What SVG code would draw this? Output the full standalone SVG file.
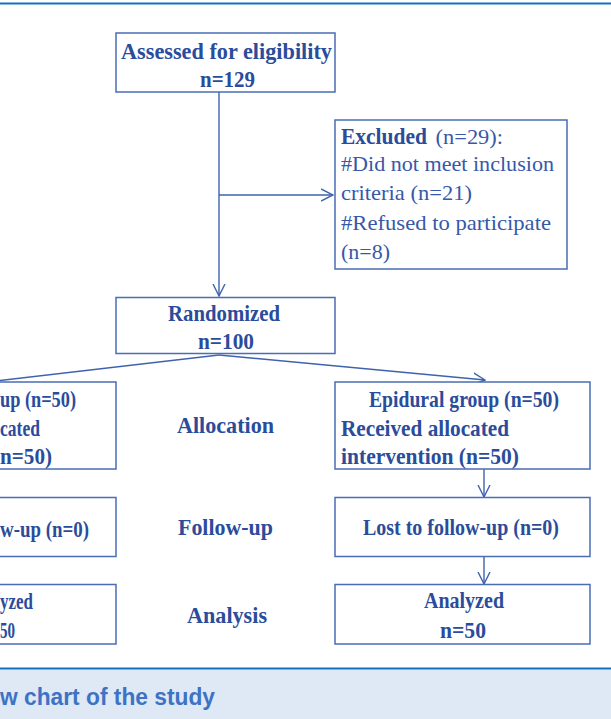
<svg xmlns="http://www.w3.org/2000/svg" width="611" height="719" viewBox="0 0 611 719">
  <style>
    .box { fill: #ffffff; stroke: #4a6db4; stroke-width: 1.5; }
    .b { font-family: "Liberation Serif", "DejaVu Serif", serif; font-weight: bold; font-size: 24px; fill: #2a4c9b; }
    .r { font-family: "Liberation Serif", "DejaVu Serif", serif; font-weight: normal; font-size: 22px; fill: #3758a8; }
    .conn { fill: none; stroke: #3e63ae; stroke-width: 1.4; }
    .cap { font-family: "Liberation Sans", Arial, sans-serif; font-weight: bold; font-size: 23px; fill: #3d72c4; }
  </style>
  <defs>
    <marker id="arr" viewBox="0 0 13 14" refX="12" refY="7" markerWidth="13" markerHeight="14" markerUnits="userSpaceOnUse" orient="auto">
      <path d="M0,1 L12,7 L0,13" fill="none" stroke="#3e63ae" stroke-width="1.4"/>
    </marker>
  </defs>
  <rect x="0" y="0" width="611" height="719" fill="#ffffff"/>
  <line x1="0" y1="3.5" x2="611" y2="3.5" stroke="#1470bf" stroke-width="2"/>

  <g id="connectors">
    <path class="conn" d="M219,92 V296" marker-end="url(#arr)"/>
    <path class="conn" d="M219,195 H333" marker-end="url(#arr)"/>
    <path class="conn" d="M219,355 L-30,384"/>
    <path class="conn" d="M219,355 L485,380" marker-end="url(#arr)"/>
    <path class="conn" d="M484,469 V497" marker-end="url(#arr)"/>
    <path class="conn" d="M484,557 V584" marker-end="url(#arr)"/>
  </g>

  <g id="assessed">
    <rect class="box" x="116" y="33" width="219" height="59"/>
    <text class="b" x="121" y="58.5" textLength="211" lengthAdjust="spacingAndGlyphs">Assessed for eligibility</text>
    <text class="b" x="200" y="86.5" textLength="55" lengthAdjust="spacingAndGlyphs">n=129</text>
  </g>

  <g id="excluded">
    <rect class="box" x="335" y="120" width="232" height="149"/>
    <text class="r" y="143.5"><tspan class="b" x="341" textLength="86" lengthAdjust="spacingAndGlyphs">Excluded</tspan><tspan x="430" textLength="73" lengthAdjust="spacingAndGlyphs"> (n=29):</tspan></text>
    <text class="r" x="341" y="171" textLength="213" lengthAdjust="spacingAndGlyphs">#Did not meet inclusion</text>
    <text class="r" x="341" y="200" textLength="131" lengthAdjust="spacingAndGlyphs">criteria (n=21)</text>
    <text class="r" x="341" y="230" textLength="210" lengthAdjust="spacingAndGlyphs">#Refused to participate</text>
    <text class="r" x="341" y="258.5" textLength="49" lengthAdjust="spacingAndGlyphs">(n=8)</text>
  </g>

  <g id="randomized">
    <rect class="box" x="116" y="297.5" width="219" height="56"/>
    <text class="b" x="168" y="321" textLength="112" lengthAdjust="spacingAndGlyphs">Randomized</text>
    <text class="b" x="198" y="348.5" textLength="56" lengthAdjust="spacingAndGlyphs">n=100</text>
  </g>

  <g id="left-allocation">
    <rect class="box" x="-10" y="382" width="126" height="87"/>
    <text class="b" x="0" y="406.5" textLength="76" lengthAdjust="spacingAndGlyphs">up (n=50)</text>
    <text class="b" x="0" y="435.5" textLength="40" lengthAdjust="spacingAndGlyphs">cated</text>
    <text class="b" x="0" y="463.5" textLength="52" lengthAdjust="spacingAndGlyphs">n=50)</text>
  </g>

  <g id="label-allocation">
    <text class="b" x="177" y="433" textLength="97" lengthAdjust="spacingAndGlyphs">Allocation</text>
  </g>

  <g id="epidural">
    <rect class="box" x="335" y="382" width="255" height="87"/>
    <text class="b" x="369" y="407" textLength="190" lengthAdjust="spacingAndGlyphs">Epidural group (n=50)</text>
    <text class="b" x="341" y="436" textLength="168" lengthAdjust="spacingAndGlyphs">Received allocated</text>
    <text class="b" x="341" y="464" textLength="178" lengthAdjust="spacingAndGlyphs">intervention (n=50)</text>
  </g>

  <g id="left-followup">
    <rect class="box" x="-10" y="497.5" width="126" height="59"/>
    <text class="b" x="0" y="536.5" textLength="89" lengthAdjust="spacingAndGlyphs">w-up (n=0)</text>
  </g>

  <g id="label-followup">
    <text class="b" x="178" y="535" textLength="95" lengthAdjust="spacingAndGlyphs">Follow-up</text>
  </g>

  <g id="lost-followup">
    <rect class="box" x="335" y="497.5" width="255" height="59"/>
    <text class="b" x="363" y="535" textLength="196" lengthAdjust="spacingAndGlyphs">Lost to follow-up (n=0)</text>
  </g>

  <g id="left-analyzed">
    <rect class="box" x="-10" y="584.5" width="126" height="59.5"/>
    <text class="b" x="0" y="609" textLength="33" lengthAdjust="spacingAndGlyphs">yzed</text>
    <text class="b" x="0" y="638" textLength="15" lengthAdjust="spacingAndGlyphs">50</text>
  </g>

  <g id="label-analysis">
    <text class="b" x="187" y="623" textLength="80" lengthAdjust="spacingAndGlyphs">Analysis</text>
  </g>

  <g id="analyzed">
    <rect class="box" x="335" y="584.5" width="255" height="59.5"/>
    <text class="b" x="424" y="608" textLength="80" lengthAdjust="spacingAndGlyphs">Analyzed</text>
    <text class="b" x="440" y="638" textLength="46" lengthAdjust="spacingAndGlyphs">n=50</text>
  </g>

  <g id="caption">
    <rect x="0" y="669.5" width="611" height="49.5" fill="#dee9f5"/>
    <line x1="0" y1="668.5" x2="611" y2="668.5" stroke="#1470bf" stroke-width="2"/>
    <text class="cap" x="0" y="705" textLength="215" lengthAdjust="spacingAndGlyphs">w chart of the study</text>
  </g>
</svg>
